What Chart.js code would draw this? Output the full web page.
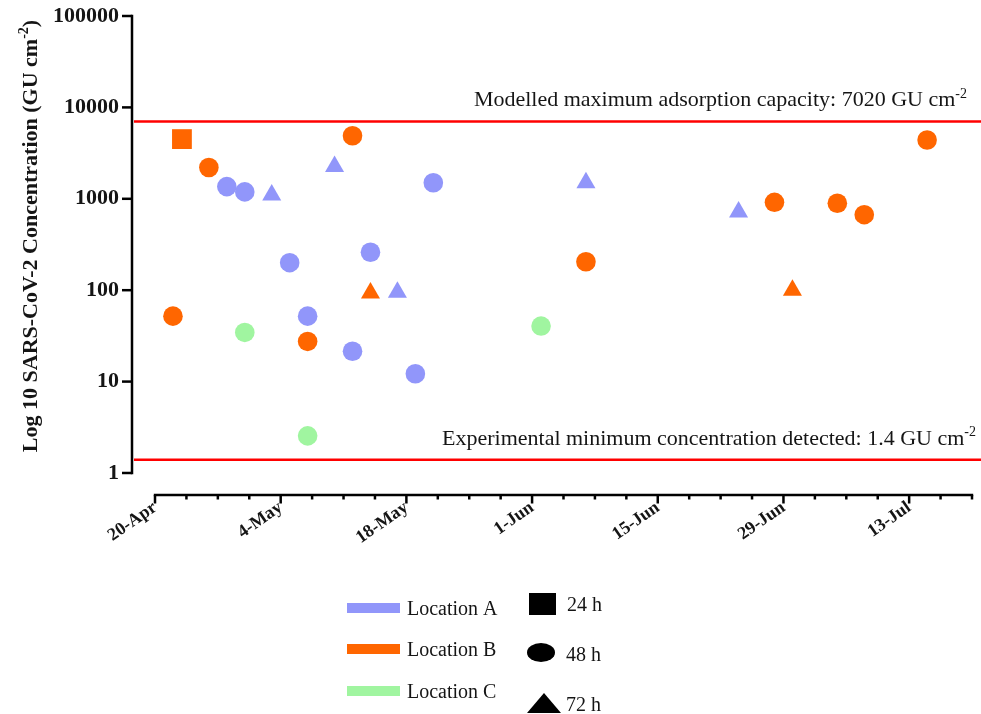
<!DOCTYPE html>
<html>
<head>
<meta charset="utf-8">
<script src="https://cdn.jsdelivr.net/npm/chart.js@4.4.1/dist/chart.umd.min.js"></script>
<style>
  html, body { margin: 0; padding: 0; background: #fff; }
  #wrap { width: 981px; height: 714px; position: relative; }
</style>
</head>
<body>
<div id="wrap"><canvas id="chart" width="981" height="714"></canvas></div>
<script>
// ---- axis labels ----
const xTickLabels = ['20-Apr', '4-May', '18-May', '1-Jun', '15-Jun', '29-Jun', '13-Jul'];
const xAxisEnd = '20-Jul';
const yTickValues = [1, 10, 100, 1000, 10000, 100000];
const yAxisTitle = 'Log 10 SARS-CoV-2 Concentration (GU cm';

// ---- Location A ----
const locationADates  = ['28-Apr', '30-Apr', '3-May', '5-May', '7-May', '10-May', '12-May', '14-May', '17-May', '19-May', '21-May', '7-Jun', '24-Jun'];
const locationAValues = [1360, 1190, 1100, 200, 52, 2250, 21.5, 260, 95, 12.2, 1500, 1500, 715];
const locationAHours  = [48, 48, 72, 48, 48, 72, 48, 48, 72, 48, 48, 72, 72];

// ---- Location B ----
const locationBDates  = ['22-Apr', '23-Apr', '26-Apr', '7-May', '12-May', '14-May', '7-Jun', '28-Jun', '30-Jun', '5-Jul', '8-Jul', '15-Jul'];
const locationBValues = [52, 4500, 2200, 27.5, 4900, 93, 205, 915, 100, 895, 670, 4400];
const locationBHours  = [48, 24, 48, 48, 48, 72, 48, 48, 72, 48, 48, 48];

// ---- Location C ----
const locationCDates  = ['30-Apr', '7-May', '2-Jun'];
const locationCValues = [34.5, 2.55, 40.5];
const locationCHours  = [48, 48, 48];

// ---- reference levels ----
const referenceLevels = [7020, 1.4];
const referenceLabels = ['Modelled maximum adsorption capacity: 7020 GU cm', 'Experimental minimum concentration detected: 1.4 GU cm'];

// ---- legend entries ----
const locationNames = ['Location A', 'Location B', 'Location C'];
const sampleTimes = [24, 48, 72];
const sampleTimeNames = ['24 h', '48 h', '72 h'];

const COLORS = ['rgb(145,150,250)', 'rgb(255,102,0)', 'rgb(160,245,160)'];
const FAMILY = '"Liberation Serif", "Times New Roman", serif';
const STYLE_BY_HOURS = { 24: 'rect', 48: 'circle', 72: 'triangle' };
const RADIUS_BY_HOURS = { 24: 14, 48: 9.8, 72: 11 };

const MONTHS = { Apr: 3, May: 4, Jun: 5, Jul: 6 };
const ORIGIN = Date.UTC(2020, 3, 20);
function dayNumber(label) {
  const [d, m] = label.split('-');
  return Math.round((Date.UTC(2020, MONTHS[m], +d) - ORIGIN) / 86400000);
}

function buildDataset(name, dates, values, hours, color) {
  return {
    label: name,
    data: dates.map((d, i) => ({ x: dayNumber(d), y: values[i] })),
    pointStyle: hours.map(h => STYLE_BY_HOURS[h]),
    pointRadius: hours.map(h => RADIUS_BY_HOURS[h]),
    pointHoverRadius: hours.map(h => RADIUS_BY_HOURS[h]),
    backgroundColor: color,
    borderColor: color,
    pointBorderWidth: 0,
    showLine: false
  };
}

// text with a raised "-2" exponent
function drawWithExponent(ctx, x, y, main, exp, tail, size, weight, align) {
  const mainFont = `${weight} ${size}px ${FAMILY}`;
  const supFont = `${weight} ${Math.round(size * 0.62)}px ${FAMILY}`;
  ctx.font = mainFont;
  const w1 = ctx.measureText(main).width;
  const w3 = tail ? ctx.measureText(tail).width : 0;
  ctx.font = supFont;
  const w2 = ctx.measureText(exp).width;
  const total = w1 + w2 + w3;
  const sx = align === 'right' ? x - total : align === 'center' ? x - total / 2 : x;
  ctx.textAlign = 'left';
  ctx.textBaseline = 'alphabetic';
  ctx.font = mainFont;
  ctx.fillText(main, sx, y);
  ctx.font = supFont;
  ctx.fillText(exp, sx + w1, y - size * 0.4);
  if (tail) { ctx.font = mainFont; ctx.fillText(tail, sx + w1 + w2, y); }
}

const decorations = {
  id: 'decorations',
  beforeDatasetsDraw(chart) {
    const { ctx, chartArea, scales: { x, y } } = chart;
    ctx.save();
    // reference levels
    ctx.strokeStyle = '#ff0000';
    ctx.lineWidth = 2.5;
    referenceLevels.forEach(v => {
      const py = y.getPixelForValue(v);
      ctx.beginPath();
      ctx.moveTo(chartArea.left + 2, py);
      ctx.lineTo(chart.width, py);
      ctx.stroke();
    });
    // y axis line and ticks
    ctx.strokeStyle = '#000';
    ctx.lineWidth = 2.5;
    const yBottom = y.getPixelForValue(yTickValues[0]);
    const yTop = y.getPixelForValue(yTickValues[yTickValues.length - 1]);
    ctx.beginPath();
    ctx.moveTo(chartArea.left, yTop - 1.2);
    ctx.lineTo(chartArea.left, yBottom + 1.2);
    ctx.stroke();
    yTickValues.forEach(v => {
      const py = y.getPixelForValue(v);
      ctx.beginPath();
      ctx.moveTo(chartArea.left - 10, py);
      ctx.lineTo(chartArea.left, py);
      ctx.stroke();
    });
    // x axis line and ticks (major every 14 days, minor every 3.5 days)
    const xStart = x.getPixelForValue(dayNumber(xTickLabels[0]));
    const endDay = dayNumber(xAxisEnd);
    const xEnd = x.getPixelForValue(endDay);
    const ay = chartArea.bottom;
    ctx.beginPath();
    ctx.moveTo(xStart - 1.2, ay);
    ctx.lineTo(xEnd + 1.2, ay);
    ctx.stroke();
    for (let d = 0; d <= endDay + 0.01; d += 3.5) {
      const px = x.getPixelForValue(d);
      const major = Math.abs(d % 14) < 0.01;
      ctx.beginPath();
      ctx.moveTo(px, ay);
      ctx.lineTo(px, ay + (major ? 8.5 : 4.5));
      ctx.stroke();
    }
    ctx.restore();
  },
  afterDraw(chart) {
    const { ctx, scales: { y } } = chart;
    ctx.save();
    ctx.fillStyle = '#151515';
    // y axis title
    ctx.save();
    ctx.translate(37, 236);
    ctx.rotate(-Math.PI / 2);
    drawWithExponent(ctx, 0, 0, yAxisTitle, '-2', ')', 22, 'bold', 'center');
    ctx.restore();
    // reference level captions
    drawWithExponent(ctx, 967, y.getPixelForValue(referenceLevels[0]) - 15, referenceLabels[0], '-2', '', 22, 'normal', 'right');
    drawWithExponent(ctx, 976, y.getPixelForValue(referenceLevels[1]) - 15, referenceLabels[1], '-2', '', 22, 'normal', 'right');

    // legend: locations
    const rowsY = [608, 649, 691];
    ctx.font = `20px ${FAMILY}`;
    ctx.textAlign = 'left';
    ctx.textBaseline = 'alphabetic';
    locationNames.forEach((name, i) => {
      ctx.fillStyle = COLORS[i];
      ctx.fillRect(347, rowsY[i] - 5, 53, 10);
      ctx.fillStyle = '#151515';
      ctx.fillText(name, 407, rowsY[i] + 7);
    });
    // legend: sampling times
    ctx.fillStyle = '#000';
    sampleTimes.forEach((h, i) => {
      const style = STYLE_BY_HOURS[h];
      ctx.beginPath();
      if (style === 'rect') {
        ctx.rect(529, 593, 27, 22);
      } else if (style === 'circle') {
        ctx.ellipse(541, 652.5, 14, 9.5, 0, 0, Math.PI * 2);
      } else {
        ctx.moveTo(544, 693);
        ctx.lineTo(561, 713);
        ctx.lineTo(527, 713);
        ctx.closePath();
      }
      ctx.fill();
    });
    ctx.fillStyle = '#151515';
    ctx.fillText(sampleTimeNames[0], 567, 611);
    ctx.fillText(sampleTimeNames[1], 566, 661);
    ctx.fillText(sampleTimeNames[2], 566, 711);
    ctx.restore();
  }
};

new Chart(document.getElementById('chart'), {
  type: 'scatter',
  data: {
    datasets: [
      buildDataset(locationNames[0], locationADates, locationAValues, locationAHours, COLORS[0]),
      buildDataset(locationNames[1], locationBDates, locationBValues, locationBHours, COLORS[1]),
      buildDataset(locationNames[2], locationCDates, locationCValues, locationCHours, COLORS[2])
    ]
  },
  options: {
    responsive: false,
    animation: false,
    events: [],
    layout: { autoPadding: false, padding: { top: 16, right: 5, left: 0, bottom: 0 } },
    plugins: { legend: { display: false }, tooltip: { enabled: false } },
    scales: {
      x: {
        type: 'linear',
        min: -2.562,
        max: 91.446,
        grid: { display: false, drawTicks: true, tickLength: 8 },
        border: { display: false },
        afterBuildTicks: s => { s.ticks = xTickLabels.map(l => ({ value: dayNumber(l) })); },
        afterFit: s => { s.height = 219; s.paddingLeft = 0; s.paddingRight = 0; },
        ticks: {
          autoSkip: false,
          minRotation: 35,
          maxRotation: 35,
          padding: -6,
          color: '#151515',
          font: { family: FAMILY, size: 18, weight: 'bold' },
          callback: v => xTickLabels.find(l => dayNumber(l) === v) || ''
        }
      },
      y: {
        type: 'logarithmic',
        min: 0.5743,
        max: 100000,
        grid: { display: false, drawTicks: true, tickLength: 10 },
        border: { display: false },
        afterBuildTicks: s => { s.ticks = yTickValues.map(v => ({ value: v })); },
        afterFit: s => { s.width = 132; s.paddingTop = 0; s.paddingBottom = 0; },
        ticks: {
          padding: 3,
          color: '#151515',
          font: { family: FAMILY, size: 22, weight: 'bold' },
          callback: v => String(v)
        }
      }
    }
  },
  plugins: [decorations]
});
</script>
</body>
</html>
